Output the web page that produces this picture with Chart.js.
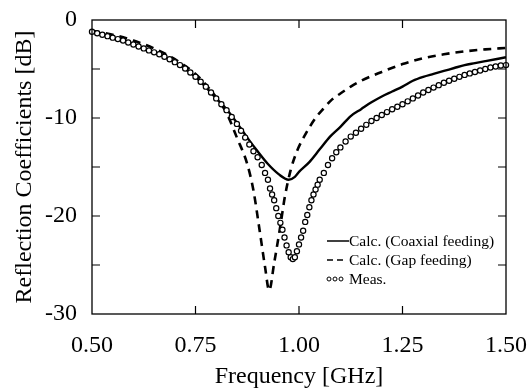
<!DOCTYPE html>
<html lang="en">
<head>
  <meta charset="UTF-8" />
  <title>Reflection Coefficients</title>
  <script src="https://cdn.jsdelivr.net/npm/chart.js"></script>
  <style>
    body { margin: 0; background: #fff; }
    .wrap { width: 528px; height: 389px; }
  </style>
</head>
<body>
  <div class="wrap"><canvas id="chart"></canvas></div>
  <script>
    // frequency [GHz] / reflection [dB]
    const coaxFreq = [0.50, 0.55, 0.60, 0.65, 0.70, 0.75, 0.80, 0.825, 0.85, 0.875, 0.90, 0.925, 0.95, 0.975,
      0.99, 1.00, 1.025, 1.05, 1.075, 1.10, 1.125, 1.15, 1.175, 1.20, 1.225, 1.25, 1.275, 1.30, 1.325,
      1.35, 1.375, 1.40, 1.425, 1.45, 1.475, 1.50];
    const coaxDb = [-1.2, -1.8, -2.5, -3.3, -4.3, -5.8, -8.0, -9.1, -10.5, -12.0, -13.4, -14.7, -15.7, -16.3,
      -16.0, -15.5, -14.5, -13.2, -11.9, -10.9, -9.8, -9.1, -8.4, -7.8, -7.3, -6.8, -6.2, -5.8, -5.5,
      -5.2, -4.9, -4.6, -4.4, -4.2, -4.0, -3.8];

    const gapFreq = [0.50, 0.55, 0.60, 0.65, 0.70, 0.75, 0.775, 0.80, 0.825, 0.85, 0.875, 0.89, 0.905, 0.918,
      0.928, 0.94, 0.955, 0.966, 0.98, 0.995, 1.015, 1.04, 1.06, 1.08, 1.10, 1.125, 1.15, 1.20, 1.25,
      1.30, 1.35, 1.40, 1.45, 1.50];
    const gapDb = [-1.1, -1.5, -2.1, -2.9, -4.0, -5.5, -6.6, -7.9, -9.5, -12.0, -14.7, -17.4, -21.5, -25.2,
      -27.6, -24.8, -21.0, -18.0, -15.3, -13.4, -11.7, -10.0, -9.0, -8.1, -7.5, -6.8, -6.2, -5.3, -4.5,
      -3.9, -3.5, -3.2, -3.0, -2.85];

    const measFreq = [0.5, 0.5125, 0.525, 0.5375, 0.55, 0.5625, 0.575, 0.5875, 0.6, 0.6125, 0.625, 0.6375,
      0.65, 0.6625, 0.675, 0.6875, 0.7, 0.7125, 0.725, 0.7375, 0.75, 0.7625, 0.775, 0.7875, 0.8, 0.8125,
      0.825, 0.8375, 0.85, 0.86, 0.87, 0.88, 0.89, 0.90, 0.91, 0.918, 0.925, 0.93, 0.935, 0.94, 0.945,
      0.95, 0.955, 0.96, 0.965, 0.97, 0.975, 0.98, 0.985, 0.99, 0.995, 1.00, 1.005, 1.01, 1.015, 1.02,
      1.025, 1.03, 1.035, 1.04, 1.045, 1.05, 1.06, 1.07, 1.08, 1.09, 1.10, 1.1125, 1.125, 1.1375, 1.15,
      1.1625, 1.175, 1.1875, 1.20, 1.2125, 1.225, 1.2375, 1.25, 1.2625, 1.275, 1.2875, 1.30, 1.3125,
      1.325, 1.3375, 1.35, 1.3625, 1.375, 1.3875, 1.40, 1.4125, 1.425, 1.4375, 1.45, 1.4625, 1.475,
      1.4875, 1.50];
    const measDb = [-1.2, -1.35, -1.5, -1.65, -1.8, -1.95, -2.1, -2.3, -2.5, -2.7, -2.9, -3.1,
      -3.3, -3.5, -3.75, -4.0, -4.3, -4.6, -4.95, -5.35, -5.8, -6.3, -6.8, -7.4, -8.0, -8.6,
      -9.2, -9.9, -10.6, -11.3, -12.0, -12.7, -13.4, -14.0, -14.8, -15.6, -16.3, -17.2, -17.8, -18.4, -19.2,
      -20.0, -20.7, -21.4, -22.2, -23.0, -23.7, -24.2, -24.4, -24.2, -23.6, -22.9, -22.2, -21.5, -20.6, -19.9,
      -19.1, -18.4, -17.8, -17.3, -16.8, -16.3, -15.6, -14.8, -14.1, -13.5, -13.0, -12.4, -11.9, -11.5, -11.1,
      -10.7, -10.3, -10.0, -9.7, -9.4, -9.1, -8.85, -8.6, -8.3, -8.0, -7.7, -7.4, -7.15,
      -6.9, -6.65, -6.4, -6.2, -6.0, -5.8, -5.6, -5.45, -5.3, -5.15, -5.0, -4.85, -4.75,
      -4.65, -4.6];

    const xTickValues = [0.50, 0.75, 1.00, 1.25, 1.50];
    const yTickValues = [0, -10, -20, -30];
    const yMarkValues = [-5, -10, -15, -20, -25];
    const legendLabels = ['Calc. (Coaxial feeding)', 'Calc. (Gap feeding)', 'Meas.'];

    const SERIF = '"Liberation Serif", "Times New Roman", serif';

    function pairs(xs, ys) {
      return xs.map((x, i) => ({ x: x, y: ys[i] }));
    }

    // frame, inward ticks and the legend box
    const framePlugin = {
      id: 'frame',
      afterDraw(chart) {
        const { ctx, chartArea: a, scales } = chart;
        const xs = scales.x, ys = scales.y;
        ctx.save();
        ctx.strokeStyle = '#000';
        ctx.lineWidth = 1.3;
        ctx.strokeRect(a.left, a.top, a.right - a.left, a.bottom - a.top);
        ctx.lineWidth = 1.2;
        ctx.beginPath();
        xTickValues.slice(1, -1).forEach(v => {
          const px = xs.getPixelForValue(v);
          ctx.moveTo(px, a.bottom); ctx.lineTo(px, a.bottom - 8);
          ctx.moveTo(px, a.top); ctx.lineTo(px, a.top + 8);
        });
        yMarkValues.forEach(v => {
          const py = ys.getPixelForValue(v);
          ctx.moveTo(a.left, py); ctx.lineTo(a.left + 8, py);
          ctx.moveTo(a.right, py); ctx.lineTo(a.right - 8, py);
        });
        ctx.stroke();

        // legend
        const lx = a.left + 235, tx = a.left + 257;
        const rows = [a.top + 221, a.top + 240, a.top + 259];
        ctx.font = '15.5px ' + SERIF;
        ctx.fillStyle = '#000';
        ctx.textBaseline = 'middle';
        ctx.textAlign = 'left';

        ctx.lineWidth = 1.5;
        ctx.beginPath();
        ctx.moveTo(lx, rows[0]); ctx.lineTo(tx, rows[0]);
        ctx.stroke();

        ctx.setLineDash([6, 4]);
        ctx.beginPath();
        ctx.moveTo(lx, rows[1]); ctx.lineTo(tx - 2, rows[1]);
        ctx.stroke();
        ctx.setLineDash([]);

        ctx.lineWidth = 1;
        [lx + 2, lx + 8, lx + 14].forEach(cx => {
          ctx.beginPath();
          ctx.arc(cx, rows[2], 2, 0, Math.PI * 2);
          ctx.stroke();
        });

        legendLabels.forEach((t, i) => ctx.fillText(t, tx, rows[i] + 1));
        ctx.restore();
      }
    };

    new Chart(document.getElementById('chart'), {
      type: 'line',
      data: {
        datasets: [
          {
            label: legendLabels[2],
            data: pairs(measFreq, measDb),
            showLine: false,
            pointStyle: 'circle',
            pointRadius: 2.6,
            pointBorderWidth: 1.2,
            pointBorderColor: '#000',
            pointBackgroundColor: '#fff',
            clip: false
          },
          {
            label: legendLabels[0],
            data: pairs(coaxFreq, coaxDb),
            borderColor: '#000',
            borderWidth: 2.4,
            pointRadius: 0,
            cubicInterpolationMode: 'monotone'
          },
          {
            label: legendLabels[1],
            data: pairs(gapFreq, gapDb),
            borderColor: '#000',
            borderWidth: 2.6,
            borderDash: [8, 6],
            pointRadius: 0,
            cubicInterpolationMode: 'monotone'
          }
        ]
      },
      options: {
        responsive: true,
        maintainAspectRatio: false,
        animation: false,
        devicePixelRatio: 1,
        layout: { padding: { top: 20, right: 22, left: 0, bottom: 0 } },
        plugins: { legend: { display: false }, tooltip: { enabled: false } },
        scales: {
          x: {
            type: 'linear',
            min: 0.5,
            max: 1.5,
            afterBuildTicks: s => { s.ticks = xTickValues.map(v => ({ value: v })); },
            afterFit: s => { s.height = 75; s.paddingLeft = 0; s.paddingRight = 0; },
            grid: { display: false, drawTicks: false },
            border: { display: false },
            ticks: {
              padding: 17,
              color: '#000',
              maxRotation: 0,
              font: { family: SERIF, size: 24 },
              callback: v => v.toFixed(2)
            },
            title: {
              display: true,
              text: 'Frequency [GHz]',
              color: '#000',
              font: { family: SERIF, size: 24, lineHeight: 1 },
              padding: { top: 0, bottom: 0 }
            }
          },
          y: {
            min: -30,
            max: 0,
            afterBuildTicks: s => { s.ticks = yTickValues.map(v => ({ value: v })); },
            afterFit: s => { s.width = 92; s.paddingTop = 0; s.paddingBottom = 0; },
            grid: { display: false, drawTicks: false },
            border: { display: false },
            ticks: {
              padding: 15,
              color: '#000',
              font: { family: SERIF, size: 24 }
            },
            title: {
              display: true,
              text: 'Reflection Coefficients [dB]',
              color: '#000',
              font: { family: SERIF, size: 24, lineHeight: 1 },
              padding: { top: 13, bottom: 0 }
            }
          }
        }
      },
      plugins: [framePlugin]
    });
  </script>
</body>
</html>
